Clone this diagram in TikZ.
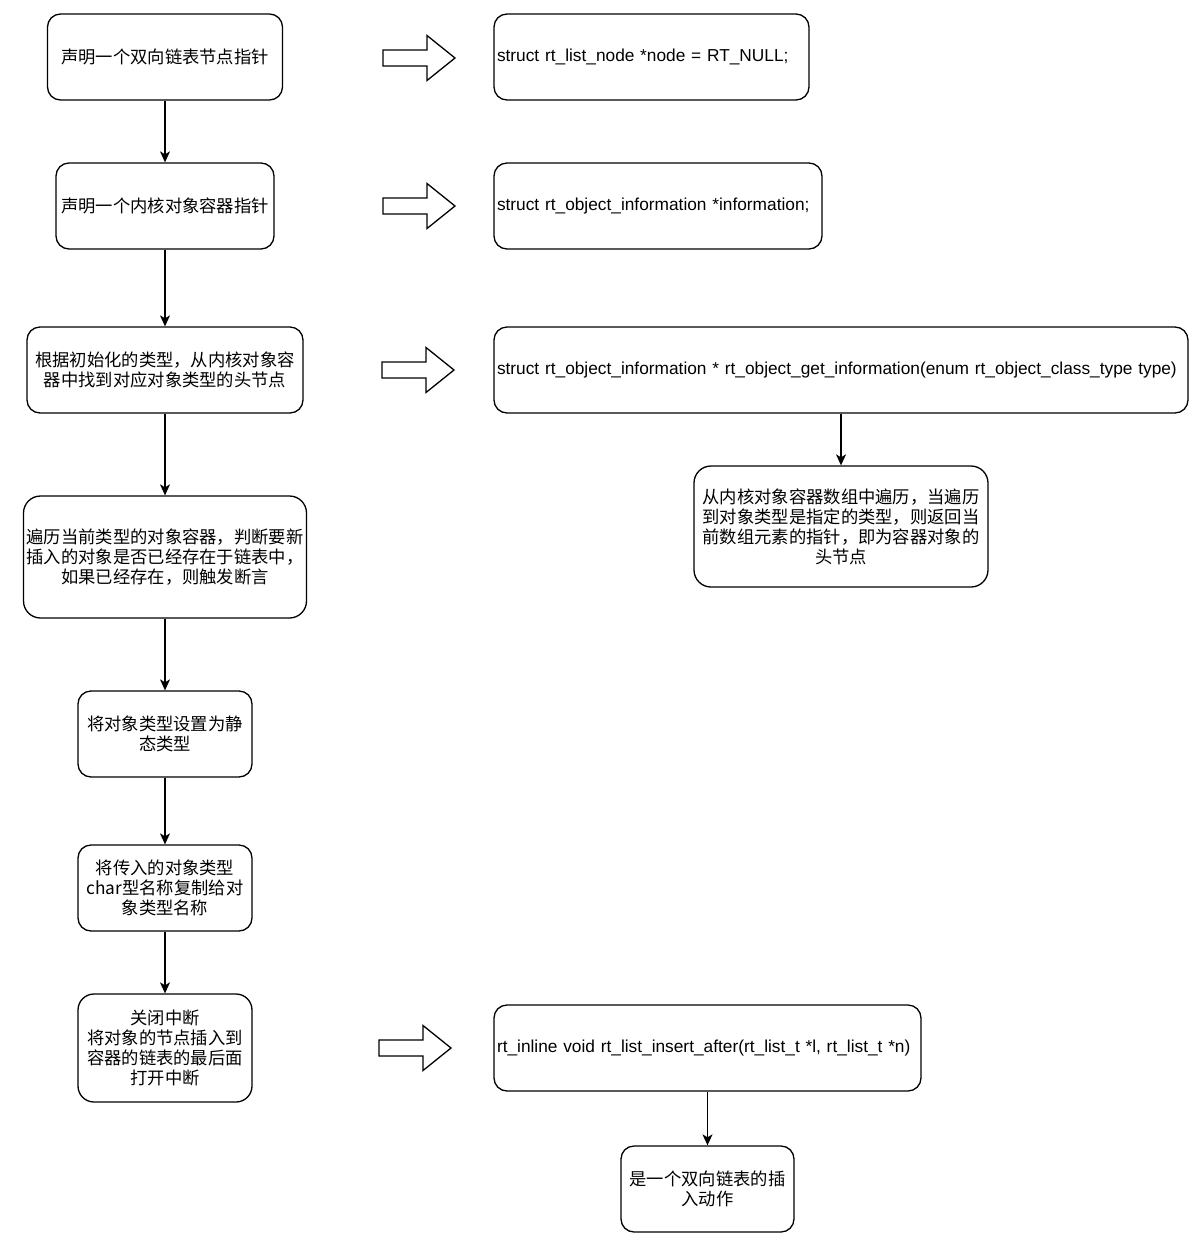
\documentclass[tikz,border=0pt]{standalone}
\usepackage{fontspec}
\setmainfont{Liberation Sans}
\newfontfamily\cjk{Noto Sans CJK SC}
\usetikzlibrary{arrows.meta}

\begin{document}
\begin{tikzpicture}[x=1pt, y=-1pt,
  % Rounded boxes for the steps (Chinese text, centred)
  stepbox/.style={rectangle, draw=black, line width=1.3pt, rounded corners=13pt, align=center, inner sep=2pt, minimum height=86pt, font=\cjk\fontsize{17.3}{20}\selectfont},
  % Rounded boxes for the code lines (left aligned)
  codebox/.style={rectangle, draw=black, line width=1.3pt, rounded corners=13pt, align=left, inner xsep=3pt, minimum height=86pt, font=\fontsize{17.3}{20}\selectfont},
  % Arrow styles
  flow/.style={-{Stealth[length=11pt, width=10pt, inset=3pt]}, line width=1.3pt},
  % Hollow block arrow pointing to the code
  pics/blockarrow/.style={code={
    \draw[line width=1.3pt, fill=white] (0,-8) -- (44,-8) -- (44,-22.5) -- (72,0) -- (44,22.5) -- (44,8) -- (0,8) -- cycle;
  }}
]
\useasboundingbox (0,0) rectangle (1200,1240);

% Layer 1: Steps on the left
\node[stepbox, minimum width=235pt] (decl) at (165,57) {声明一个双向链表节点指针};
\node[stepbox, minimum width=218pt] (info) at (165,206) {声明一个内核对象容器指针};
\node[stepbox, minimum width=276pt] (find) at (165,370) {根据初始化的类型，从内核对象容\\器中找到对应对象类型的头节点};
\node[stepbox, minimum width=283pt, minimum height=122pt, rounded corners=17pt] (check) at (165,557) {遍历当前类型的对象容器，判断要新\\插入的对象是否已经存在于链表中，\\如果已经存在，则触发断言};
\node[stepbox, minimum width=174pt] (static) at (165,734) {将对象类型设置为静\\态类型};
\node[stepbox, minimum width=174pt] (name) at (165,888) {将传入的对象类型\\char型名称复制给对\\象类型名称};
\node[stepbox, minimum width=174pt, minimum height=108pt, rounded corners=16pt] (insert) at (165,1048) {关闭中断\\将对象的节点插入到\\容器的链表的最后面\\打开中断};

% Layer 2: Code on the right
\node[codebox, text width=309pt] (nodeptr) at (651.5,57) {struct rt\_list\_node *node = RT\_NULL;};
\node[codebox, text width=322pt] (infoptr) at (658,206) {struct rt\_object\_information *information;};
\node[codebox, text width=688pt] (getinfo) at (841,370) {struct rt\_object\_information * rt\_object\_get\_information(enum rt\_object\_class\_type type)};
\node[stepbox, minimum width=294pt, minimum height=121pt, rounded corners=17pt] (walk) at (841,526.5) {从内核对象容器数组中遍历，当遍历\\到对象类型是指定的类型，则返回当\\前数组元素的指针，即为容器对象的\\头节点};
\node[codebox, text width=421pt] (listins) at (707.5,1048) {rt\_inline void rt\_list\_insert\_after(rt\_list\_t *l, rt\_list\_t *n)};
\node[stepbox, minimum width=173pt] (dlist) at (707.5,1189) {是一个双向链表的插\\入动作};

% Layer 3: Flow arrows
\draw[flow] (decl) -- (info);
\draw[flow] (info) -- (find);
\draw[flow] (find) -- (check);
\draw[flow] (check) -- (static);
\draw[flow] (static) -- (name);
\draw[flow] (name) -- (insert);
\draw[flow] (getinfo) -- (walk);
\draw[flow] (listins) -- (dlist);

% Layer 4: Block arrows between the columns
\pic at (383,58) {blockarrow};
\pic at (383,206) {blockarrow};
\pic at (382,370) {blockarrow};
\pic at (379,1048) {blockarrow};

\end{tikzpicture}
\end{document}
